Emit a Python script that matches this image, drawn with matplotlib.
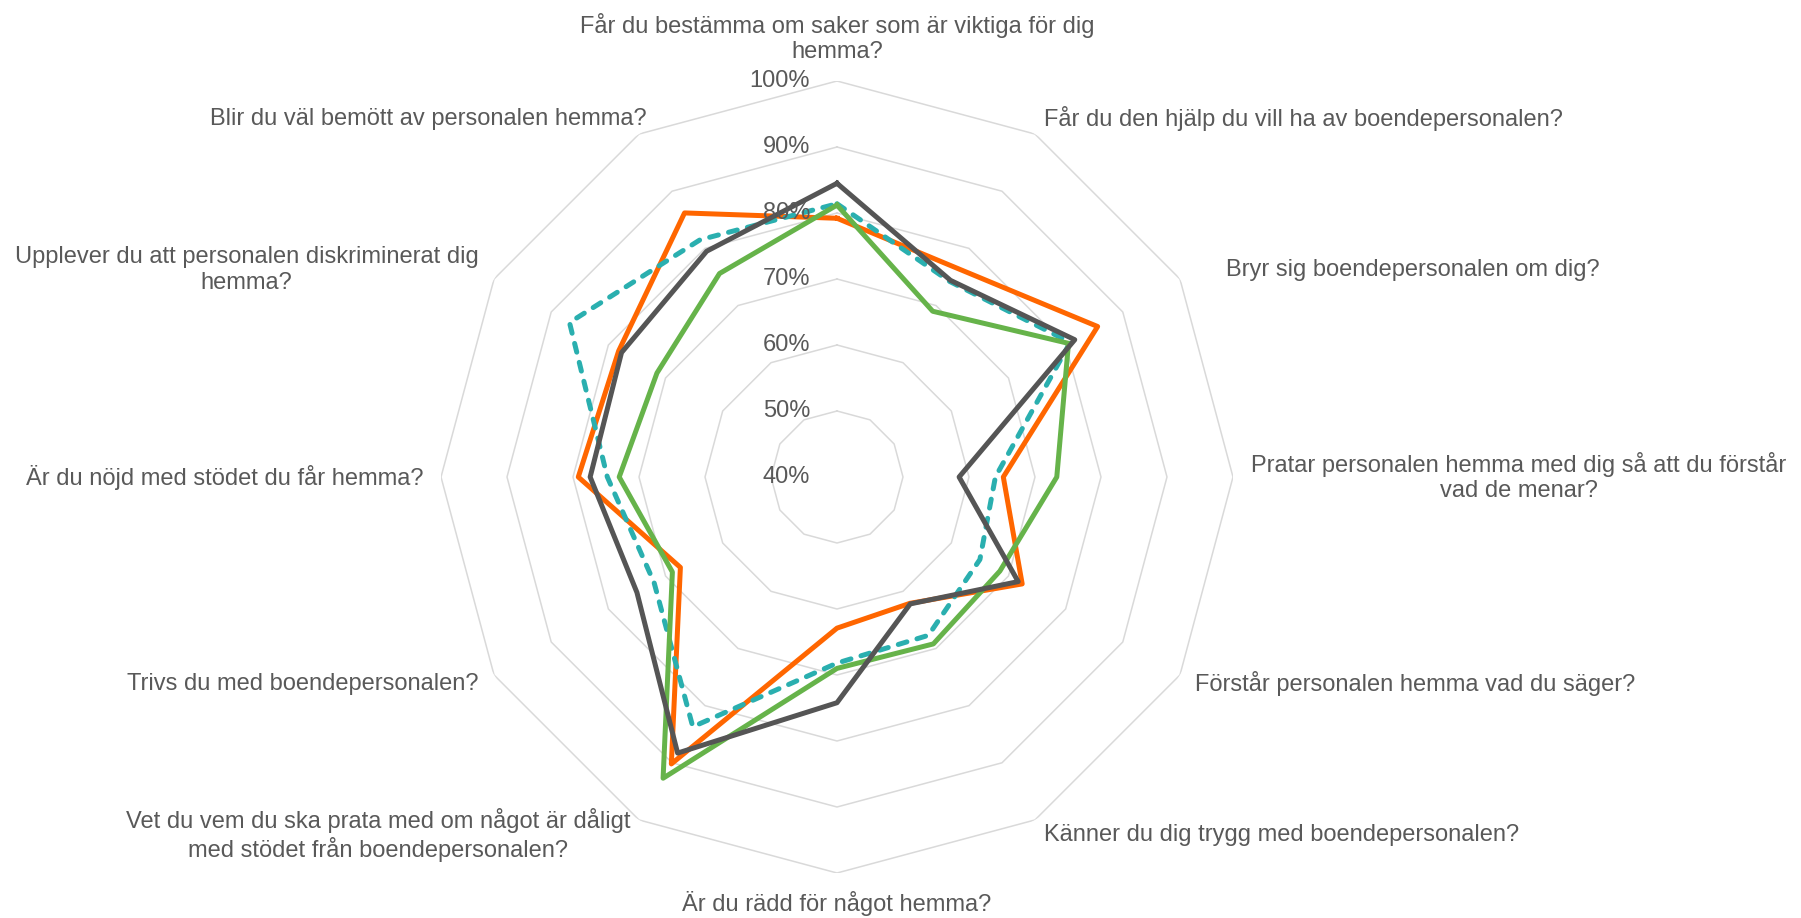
import numpy as np
import matplotlib
matplotlib.use("Agg")
import matplotlib.pyplot as plt

plt.rcParams['font.family'] = ['Liberation Sans', 'DejaVu Sans']

# questions, clockwise from the top
categories = [
    "Får du bestämma om saker som är viktiga för dig\nhemma?",
    "Får du den hjälp du vill ha av boendepersonalen?",
    "Bryr sig boendepersonalen om dig?",
    "Pratar personalen hemma med dig så att du förstår\nvad de menar?",
    "Förstår personalen hemma vad du säger?",
    "Känner du dig trygg med boendepersonalen?",
    "Är du rädd för något hemma?",
    "Vet du vem du ska prata med om något är dåligt\nmed stödet från boendepersonalen?",
    "Trivs du med boendepersonalen?",
    "Är du nöjd med stödet du får hemma?",
    "Upplever du att personalen diskriminerat dig\nhemma?",
    "Blir du väl bemött av personalen hemma?",
]

# percent values per series
orange = [79.2, 76.5, 85.6, 65.2, 72.4, 62.1, 62.9, 90.2, 67.4, 79.2, 78.2, 86.2]
teal = [81.4, 74.2, 80.8, 64.0, 65.0, 67.7, 68.2, 83.7, 72.0, 74.8, 86.8, 81.5]
green = [81.2, 69.0, 80.5, 73.3, 68.5, 69.2, 69.0, 92.7, 68.8, 73.0, 71.5, 75.6]
grey = [84.5, 74.4, 81.6, 58.5, 71.7, 62.2, 74.2, 88.3, 75.0, 77.4, 77.7, 79.5]

ticks = [40, 50, 60, 70, 80, 90, 100]

TEXT = "#595959"
GRID = "#D9D9D9"

fig = plt.figure(figsize=(18.01, 9.18), dpi=100)
ax = fig.add_axes([441 / 1801, 45 / 918, 792 / 1801, 792 / 918], projection='polar')
ax.set_theta_zero_location('N')
ax.set_theta_direction(-1)
ax.set_ylim(40, 100)
ax.set_xticks([])
ax.set_yticks([])
ax.grid(False)
ax.spines['polar'].set_visible(False)
ax.patch.set_visible(False)

n = len(categories)
angles = np.linspace(0, 2 * np.pi, n, endpoint=False)
closed = np.append(angles, angles[0])

# polygon gridlines
for t in ticks[1:]:
    ax.plot(closed, [t] * (n + 1), color=GRID, lw=1.1, zorder=1)

def close(vals):
    return vals + vals[:1]

ax.plot(closed, close(orange), color="#FF6600", lw=3.6, zorder=3)
ax.plot(closed, close(teal), color="#2AAFAF", lw=3.6, zorder=3,
        linestyle=(0, (1.8, 2.1)), dash_capstyle='round')
ax.plot(closed, close(green), color="#66B34A", lw=3.6, zorder=3)
ax.plot(closed, close(grey), color="#555555", lw=3.6, zorder=4)

# radial tick labels along the top axis
for t in ticks:
    ax.annotate(f"{t}%", xy=(0, t), xytext=(-27, 0), textcoords='offset pixels',
                ha='right', va='center', fontsize=17, color=TEXT, zorder=5)

# category labels
label_r = 102.7
nudge = {2: (31, 0), 11: (17, 0)}
for i, (a, lab) in enumerate(zip(angles, categories)):
    deg = np.degrees(a) % 360
    if deg < 1:
        ha, va = 'center', 'bottom'
    elif abs(deg - 180) < 1:
        ha, va = 'center', 'top'
    elif deg < 180:
        ha, va = 'left', 'center'
    else:
        ha, va = 'right', 'center'
    dx, dy = nudge.get(i, (0, 0))
    ax.annotate(lab, xy=(a, label_r), xytext=(dx, dy), textcoords='offset pixels',
                ha=ha, va=va, multialignment='center', fontsize=17, color=TEXT,
                annotation_clip=False, linespacing=1.2)

fig.savefig("out.png", dpi=100, facecolor='white')
